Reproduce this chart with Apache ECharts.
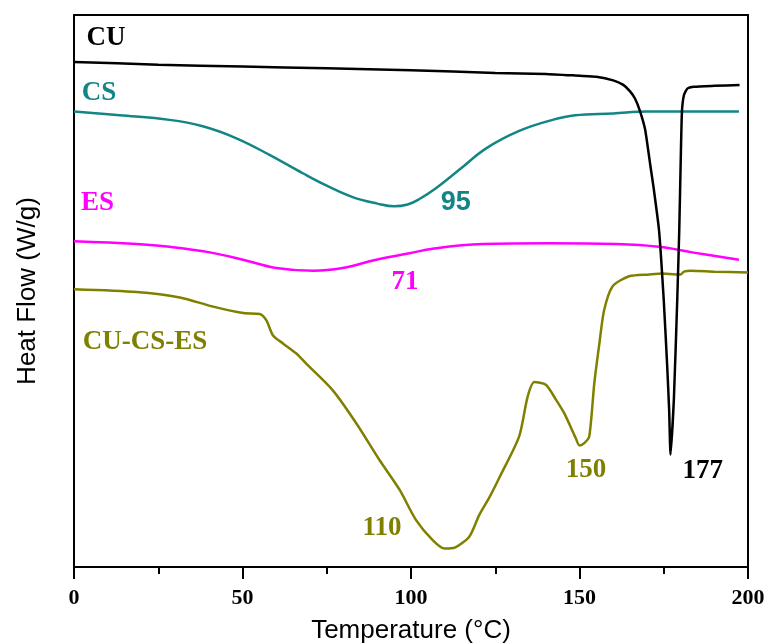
<!DOCTYPE html>
<html>
<head>
<meta charset="utf-8">
<script src="https://cdn.jsdelivr.net/npm/echarts@6/dist/echarts.min.js"></script>
<style>
  html, body { margin: 0; padding: 0; background: #fff; }
  #chart { width: 768px; height: 644px; }
</style>
</head>
<body>
<div id="chart"></div>
<script>
// DSC thermograms: [temperature (°C), heat flow (W/g, offset for stacking)]
const cuCurve = [[0,-0.51],[25,-0.54],[50,-0.56],[75,-0.58],[100,-0.60],[125,-0.63],[140,-0.64],[150,-0.66],[155,-0.67],[160,-0.71],[163,-0.76],[165,-0.83],[166.5,-0.91],[168,-1.05],[169.5,-1.25],[171,-1.63],[172,-1.88],[173.6,-2.34],[175,-3.10],[176,-3.80],[176.6,-4.29],[177,-4.78],[178,-4.18],[179,-3.10],[179.6,-2.34],[180.1,-1.47],[180.4,-1.05],[181,-0.87],[182,-0.80],[184,-0.78],[190,-0.77],[197.5,-0.76]];

const csCurve = [[0,-1.05],[13.6,-1.09],[28.4,-1.14],[38.2,-1.21],[48.2,-1.34],[58,-1.52],[67.9,-1.72],[74.7,-1.85],[82.7,-1.98],[90,-2.05],[95,-2.08],[99,-2.06],[102.5,-2.00],[107.5,-1.88],[114.4,-1.68],[122.3,-1.45],[132.1,-1.26],[142,-1.14],[148.7,-1.09],[160,-1.07],[170,-1.05],[197.3,-1.05]];

const esCurve = [[0,-2.46],[18.6,-2.49],[28.4,-2.52],[40.3,-2.58],[50.1,-2.66],[60,-2.75],[71,-2.78],[79.7,-2.75],[89.7,-2.66],[99.6,-2.59],[106.4,-2.54],[121.2,-2.49],[141,-2.48],[160.8,-2.49],[173.6,-2.52],[183.4,-2.58],[197.3,-2.66]];

const blendCurve = [[0,-2.98],[18.6,-3.01],[31.4,-3.07],[41.3,-3.17],[50.2,-3.24],[55.1,-3.25],[57.1,-3.32],[59,-3.48],[62,-3.57],[66,-3.68],[68.9,-3.79],[76.8,-4.08],[83.8,-4.44],[90.7,-4.84],[96.6,-5.16],[101.5,-5.49],[106.5,-5.71],[110,-5.80],[113,-5.79],[117.3,-5.67],[120.3,-5.43],[123.3,-5.24],[126.2,-5.03],[132.1,-4.58],[134.6,-4.15],[136.6,-3.99],[140,-4.02],[143,-4.18],[145.5,-4.33],[148.9,-4.60],[150,-4.68],[151.5,-4.65],[152.9,-4.58],[154.4,-4.00],[155.9,-3.57],[157.3,-3.21],[159.8,-2.95],[164.7,-2.84],[170.7,-2.82],[174.6,-2.81],[178.6,-2.82],[180,-2.82],[181,-2.79],[183,-2.78],[190,-2.79],[200,-2.80]];

const xTicks = [0, 50, 100, 150, 200];

// curve names and peak temperatures, anchored in data coordinates
const annotations = [
  { text: 'CU', x: 9.5, y: -0.25, color: '#000000', font: 'Liberation Serif' },
  { text: 'CS', x: 7.4, y: -0.85, color: '#138585', font: 'Liberation Serif' },
  { text: 'ES', x: 7.0, y: -2.04, color: '#ff00ff', font: 'Liberation Serif' },
  { text: 'CU-CS-ES', x: 21.1, y: -3.55, color: '#808000', font: 'Liberation Serif' },
  { text: '95', x: 113.3, y: -2.04, color: '#138585', font: 'Liberation Sans' },
  { text: '71', x: 98.2, y: -2.90, color: '#ff00ff', font: 'Liberation Serif' },
  { text: '110', x: 91.4, y: -5.58, color: '#808000', font: 'Liberation Serif' },
  { text: '150', x: 151.9, y: -4.95, color: '#808000', font: 'Liberation Serif' },
  { text: '177', x: 186.6, y: -4.96, color: '#000000', font: 'Liberation Serif' }
];

const chart = echarts.init(document.getElementById('chart'), null, { renderer: 'canvas' });

function curve(name, data, color, smooth) {
  return {
    name: name, type: 'line', data: data, showSymbol: false, symbol: 'none',
    smooth: smooth,
    lineStyle: { color: color, width: 2.5 }, z: 3
  };
}

const option = {
  animation: false,
  backgroundColor: '#ffffff',
  grid: { left: 74, right: 20, top: 15, bottom: 77, show: false, containLabel: false, outerBoundsMode: 'none' },
  xAxis: [{
    type: 'value', min: 0, max: 200, interval: 50,
    name: 'Temperature (°C)', nameLocation: 'middle', nameGap: 51,
    nameTextStyle: { fontFamily: 'Liberation Sans', fontSize: 26, color: '#000' },
    axisLine: { show: true, onZero: false, lineStyle: { color: '#000', width: 2 } },
    axisTick: { show: true, inside: false, length: 12, lineStyle: { color: '#000', width: 2 } },
    minorTick: { show: true, splitNumber: 2, length: 7, lineStyle: { color: '#000', width: 2 } },
    axisLabel: {
      margin: 20, fontFamily: 'Liberation Serif', fontWeight: 'bold', fontSize: 22, color: '#000',
      formatter: v => (xTicks.indexOf(v) >= 0 ? String(v) : '')
    },
    splitLine: { show: false }
  }, {
    type: 'value', min: 0, max: 200, position: 'top',
    axisLine: { show: true, onZero: false, lineStyle: { color: '#000', width: 2 } },
    axisTick: { show: false }, axisLabel: { show: false }, splitLine: { show: false }
  }],
  yAxis: [{
    type: 'value', min: -6, max: 0,
    name: 'Heat Flow (W/g)', nameLocation: 'middle', nameGap: 33,
    nameTextStyle: { fontFamily: 'Liberation Sans', fontSize: 26, color: '#000' },
    axisLine: { show: true, onZero: false, lineStyle: { color: '#000', width: 2 } },
    axisTick: { show: false }, axisLabel: { show: false }, splitLine: { show: false }
  }, {
    type: 'value', min: -6, max: 0, position: 'right',
    axisLine: { show: true, onZero: false, lineStyle: { color: '#000', width: 2 } },
    axisTick: { show: false }, axisLabel: { show: false }, splitLine: { show: false }
  }],
  series: [
    curve('CS', csCurve, '#138585', 0.4),
    curve('ES', esCurve, '#ff00ff', 0.4),
    curve('CU-CS-ES', blendCurve, '#808000', 0.25),
    curve('CU', cuCurve, '#000000', 0.15)
  ]
};

chart.setOption(option);

chart.setOption({
  graphic: annotations.map(a => {
    const p = chart.convertToPixel({ gridIndex: 0 }, [a.x, a.y]);
    return {
      type: 'text', x: p[0], y: p[1], z: 10,
      style: {
        text: a.text, fill: a.color, align: 'center', verticalAlign: 'middle',
        font: 'bold 27px "' + a.font + '"'
      }
    };
  })
});
</script>
</body>
</html>
